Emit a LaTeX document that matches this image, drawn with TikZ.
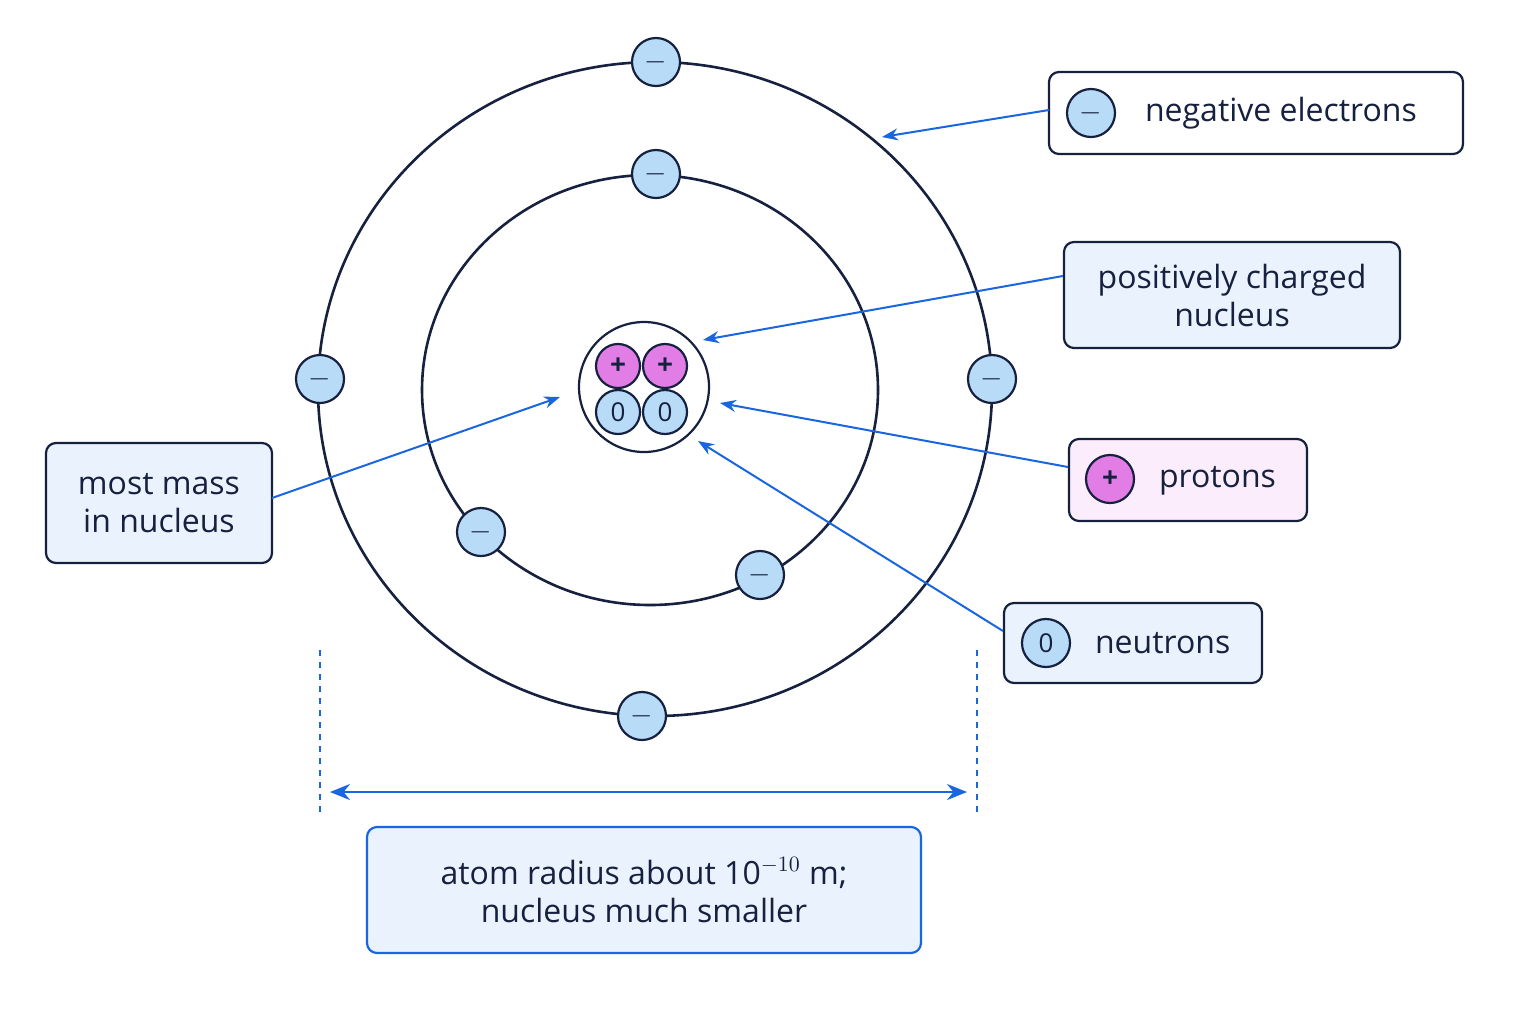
\documentclass[tikz,border=0pt]{standalone}
\usepackage{fontspec}
\setmainfont{Open Sans}
\usetikzlibrary{arrows.meta}
\definecolor{navy}{HTML}{16213F}
\definecolor{arr}{HTML}{1A66E0}
\definecolor{efill}{HTML}{B8DCF8}
\definecolor{pfill}{HTML}{E27DE6}
\definecolor{bfill}{HTML}{EAF3FD}
\definecolor{pkfill}{HTML}{FBEDFB}
\begin{document}
\begin{tikzpicture}[x=0.5pt,y=-0.5pt,
 orbit/.style={draw=navy,line width=1.3pt},
 part/.style={circle,draw=navy,line width=1.1pt,minimum size=24pt,inner sep=0pt,font=\fontsize{14}{14}\selectfont\bfseries,text=navy},
 el/.style={part,fill=efill},
 pr/.style={part,fill=pfill,minimum size=22pt},
 nt/.style={part,fill=efill,minimum size=22pt,font=\fontsize{13}{13}\selectfont},
 box/.style={draw=navy,line width=1.1pt,rounded corners=5pt,fill=bfill,text=navy,font=\fontsize{16}{19}\selectfont,align=center,inner sep=0pt},
 lbl/.style={text=navy,font=\fontsize{16}{19}\selectfont},
 con/.style={draw=arr,line width=1pt,-{Stealth[length=8pt,width=6pt]}}]
\useasboundingbox[fill=white] (0,0) rectangle (1536,1024);
\draw[orbit] (655,389) ellipse [x radius=337,y radius=327];
\draw[orbit] (650,390) ellipse [x radius=228,y radius=215];
\node[circle,draw=navy,line width=1.1pt,fill=white,minimum size=65pt] (nuc) at (644,387) {};
\node[pr] (p1) at (618,366) {+};
\node[pr] (p2) at (665,366) {+};
\node[nt] (n1) at (618,412) {0};
\node[nt] (n2) at (665,412) {0};
\foreach \n/\x/\y in {e1/656/62,e2/656/174,e3/320/379,e4/992/379,e5/481/532,e6/760/575,e7/642/716}
  \node[el] (\n) at (\x,\y) {$-$};
% boxes
\node[box,fill=white,minimum width=207pt,minimum height=41pt] (bneg) at (1256,113) {};
\node[el] (ineg) at (1091,113) {$-$};
\node[lbl,anchor=west] (tneg) at (1138,113) {negative electrons};
\node[box,minimum width=168pt,minimum height=53pt] (bnuc) at (1232,295) {positively charged\\nucleus};
\node[box,fill=pkfill,minimum width=119pt,minimum height=41pt] (bpro) at (1188,480) {};
\node[pr,minimum size=24pt] (ipro) at (1110,479) {+};
\node[lbl,anchor=west] (tpro) at (1152,481) {protons};
\node[box,minimum width=129pt,minimum height=40pt] (bneu) at (1133,643) {};
\node[nt,minimum size=24pt] (ineu) at (1046,643) {0};
\node[lbl,anchor=west] (tneu) at (1088,643) {neutrons};
\node[box,minimum width=113pt,minimum height=60pt] (bmass) at (159,503) {most mass\\in nucleus};
\node[box,draw=arr,minimum width=277pt,minimum height=63pt] (brad) at (644,890) {atom radius about 10$^{-10}$ m;\\nucleus much smaller};
% connectors
\coordinate (a1) at (882,137); \coordinate (a2) at (703,340);
\coordinate (a3) at (720,403); \coordinate (a4) at (698,441); \coordinate (a5) at (560,397);
\draw[con] (1049,110) -- (a1);
\draw[con] (bnuc.west |- 0,276) -- (a2);
\draw[con] (1068,467) -- (a3);
\draw[con] (1003,631) -- (a4);
\draw[con] (272,498) -- (a5);
% dimension
\coordinate (d1) at (320,650); \coordinate (d2) at (320,815);
\coordinate (d3) at (977,650); \coordinate (d4) at (977,815);
\draw[arr,dashed,line width=0.8pt] (d1) -- (d2);
\draw[arr,dashed,line width=0.8pt] (d3) -- (d4);
\coordinate (m1) at (330,792); \coordinate (m2) at (967,792);
\draw[arr,line width=1.2pt,{Stealth[length=10pt,width=8pt]}-{Stealth[length=10pt,width=8pt]}] (m1) -- (m2);
\end{tikzpicture}
\end{document}
